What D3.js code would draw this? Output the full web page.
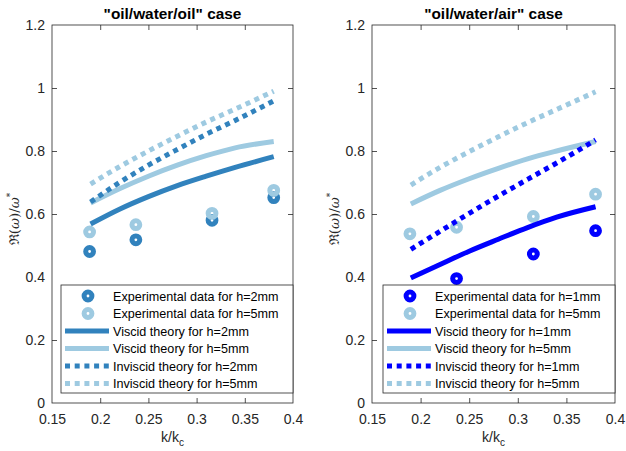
<!DOCTYPE html>
<html lang="en">
<head>
  <meta charset="UTF-8">
  <title>Dispersion - oil/water cases</title>
  <script src="https://d3js.org/d3.v7.min.js"></script>
  <style>
    body { margin: 0; background: #fff; font-family: Arial, "Liberation Sans", sans-serif; }
    .tick text { font-size: 14px; fill: #262626; font-family: Arial, "Liberation Sans", sans-serif; }
    .tick line { stroke: #262626; stroke-width: 0.8; }
    .frame { fill: none; stroke: #262626; stroke-width: 0.8; }
    .title { font-size: 15.4px; font-weight: bold; text-anchor: middle; fill: #000; }
    .axis-label { font-size: 14px; fill: #262626; text-anchor: middle; }
    .legend-text { font-size: 12.6px; fill: #000; }
  </style>
</head>
<body>
<script>
  // experimental wavenumbers (k/kc)
  var kExp = [0.189, 0.237, 0.316, 0.38];
  var kExpAir1 = [0.237, 0.316, 0.38];
  // theory sampling points
  var kTheory = [0.19, 0.22, 0.25, 0.28, 0.31, 0.34, 0.38];

  // "oil/water/oil" case
  var expOil2 = [0.481, 0.518, 0.580, 0.652];
  var expOil5 = [0.543, 0.566, 0.602, 0.675];
  var viscOil2 = [0.568, 0.615, 0.655, 0.690, 0.720, 0.748, 0.782];
  var viscOil5 = [0.635, 0.680, 0.720, 0.755, 0.785, 0.810, 0.830];
  var invOil2 = [0.638, 0.700, 0.755, 0.805, 0.853, 0.897, 0.959];
  var invOil5 = [0.695, 0.750, 0.800, 0.847, 0.892, 0.933, 0.990];

  // "oil/water/air" case
  var expAir1 = [0.395, 0.473, 0.547];
  var expAir5 = [0.537, 0.558, 0.592, 0.663];
  var viscAir1 = [0.397, 0.440, 0.482, 0.520, 0.557, 0.590, 0.623];
  var viscAir5 = [0.632, 0.675, 0.712, 0.745, 0.775, 0.800, 0.830];
  var invAir1 = [0.488, 0.545, 0.602, 0.657, 0.710, 0.762, 0.835];
  var invAir5 = [0.692, 0.748, 0.798, 0.845, 0.890, 0.932, 0.988];

  var xTicks = [0.15, 0.2, 0.25, 0.3, 0.35, 0.4];
  var yTicks = [0, 0.2, 0.4, 0.6, 0.8, 1, 1.2];

  var darkOil = "#3182bd", light = "#9ecae1", blueAir = "#0000ff";

  var svg = d3.select("body").append("svg")
    .attr("width", 626)
    .attr("height", 451);

  function drawPanel(cfg) {
    var x = d3.scaleLinear().domain([0.15, 0.4]).range([cfg.x0, cfg.x1]);
    var y = d3.scaleLinear().domain([0, 1.2]).range([403, 25]);
    var g = svg.append("g");
    var fmt = d => String(+d.toFixed(2));

    // ticks on all four sides, pointing inward
    g.append("g").attr("transform", "translate(0,403)")
      .call(d3.axisBottom(x).tickValues(xTicks).tickSize(-5).tickPadding(11).tickFormat(fmt));
    g.append("g").attr("transform", "translate(0,25)")
      .call(d3.axisTop(x).tickValues(xTicks).tickSize(-5).tickFormat(""));
    g.append("g").attr("transform", `translate(${cfg.x0},0)`)
      .call(d3.axisLeft(y).tickValues(yTicks).tickSize(-5).tickPadding(7).tickFormat(fmt));
    g.append("g").attr("transform", `translate(${cfg.x1},0)`)
      .call(d3.axisRight(y).tickValues(yTicks).tickSize(-5).tickFormat(""));
    g.selectAll(".domain").remove();
    g.selectAll(".tick").filter(d => d === 0.15 || d === 0.4 || d === 0 || d === 1.2)
      .select("line").remove();

    g.append("rect").attr("class", "frame")
      .attr("x", cfg.x0).attr("y", 25)
      .attr("width", cfg.x1 - cfg.x0).attr("height", 378);

    // titles and labels
    g.append("text").attr("class", "title")
      .attr("x", (cfg.x0 + cfg.x1) / 2).attr("y", 18.5)
      .text(cfg.title);

    var xl = g.append("text").attr("class", "axis-label")
      .attr("x", (cfg.x0 + cfg.x1) / 2).attr("y", 441.5);
    xl.append("tspan").text("k/k");
    xl.append("tspan").attr("font-size", "10px").attr("dy", 4).text("c");

    var yl = g.append("text").attr("class", "axis-label")
      .attr("transform", `translate(${cfg.x0 - 33},219) rotate(-90)`)
      .style("font-family", "'DejaVu Serif', serif").style("font-size", "13.5px");
    yl.append("tspan").text("\u211C(");
    yl.append("tspan").style("font-style", "italic").text("\u03C9");
    yl.append("tspan").text(")/");
    yl.append("tspan").style("font-style", "italic").text("\u03C9");
    yl.append("tspan").attr("font-size", "9px").attr("dy", -6).text("*");

    var line = d3.line()
      .x((d, i) => x(kTheory[i]))
      .y(d => y(d))
      .curve(d3.curveMonotoneX);

    // series, in plotting order
    cfg.series.forEach(function(s) {
      if (s.type === "exp") {
        g.selectAll(null).data(s.values).enter().append("circle")
          .attr("cx", (d, i) => x(s.k[i]))
          .attr("cy", d => y(d))
          .attr("r", 3.9)
          .attr("fill", "none")
          .attr("stroke", s.color)
          .attr("stroke-width", 5);
      } else {
        g.append("path").datum(s.values)
          .attr("d", line)
          .attr("fill", "none")
          .attr("stroke", s.color)
          .attr("stroke-width", 5)
          .attr("stroke-dasharray", s.type === "inv" ? "5,4.7" : null);
      }
    });

    // legend
    var lx = cfg.x1 - 232, ly = 285;
    var lg = g.append("g");
    lg.append("rect").attr("x", lx).attr("y", ly)
      .attr("width", 232).attr("height", 108)
      .attr("fill", "#fff").attr("stroke", "#262626").attr("stroke-width", 0.8);
    cfg.series.forEach(function(s, i) {
      var cy = ly + 11 + i * 17.5;
      if (s.type === "exp") {
        lg.append("circle").attr("cx", lx + 27).attr("cy", cy).attr("r", 3.9)
          .attr("fill", "none").attr("stroke", s.color).attr("stroke-width", 5);
      } else {
        lg.append("line").attr("x1", lx + 4).attr("x2", lx + 48)
          .attr("y1", cy).attr("y2", cy)
          .attr("stroke", s.color).attr("stroke-width", 5)
          .attr("stroke-dasharray", s.type === "inv" ? "5,4.7" : null);
      }
      lg.append("text").attr("class", "legend-text")
        .attr("x", lx + 52).attr("y", cy + 4.5)
        .text(s.label);
    });
  }

  drawPanel({
    x0: 52, x1: 293,
    title: "\"oil/water/oil\" case",
    series: [
      { type: "exp", k: kExp, values: expOil2, color: darkOil, label: "Experimental data for h=2mm" },
      { type: "exp", k: kExp, values: expOil5, color: light, label: "Experimental data for h=5mm" },
      { type: "visc", values: viscOil2, color: darkOil, label: "Viscid theory for h=2mm" },
      { type: "visc", values: viscOil5, color: light, label: "Viscid theory for h=5mm" },
      { type: "inv", values: invOil2, color: darkOil, label: "Inviscid theory for h=2mm" },
      { type: "inv", values: invOil5, color: light, label: "Inviscid theory for h=5mm" }
    ]
  });

  drawPanel({
    x0: 372, x1: 615,
    title: "\"oil/water/air\" case",
    series: [
      { type: "exp", k: kExpAir1, values: expAir1, color: blueAir, label: "Experimental data for h=1mm" },
      { type: "exp", k: kExp, values: expAir5, color: light, label: "Experimental data for h=5mm" },
      { type: "visc", values: viscAir1, color: blueAir, label: "Viscid theory for h=1mm" },
      { type: "visc", values: viscAir5, color: light, label: "Viscid theory for h=5mm" },
      { type: "inv", values: invAir1, color: blueAir, label: "Inviscid theory for h=1mm" },
      { type: "inv", values: invAir5, color: light, label: "Inviscid theory for h=5mm" }
    ]
  });
</script>
</body>
</html>
